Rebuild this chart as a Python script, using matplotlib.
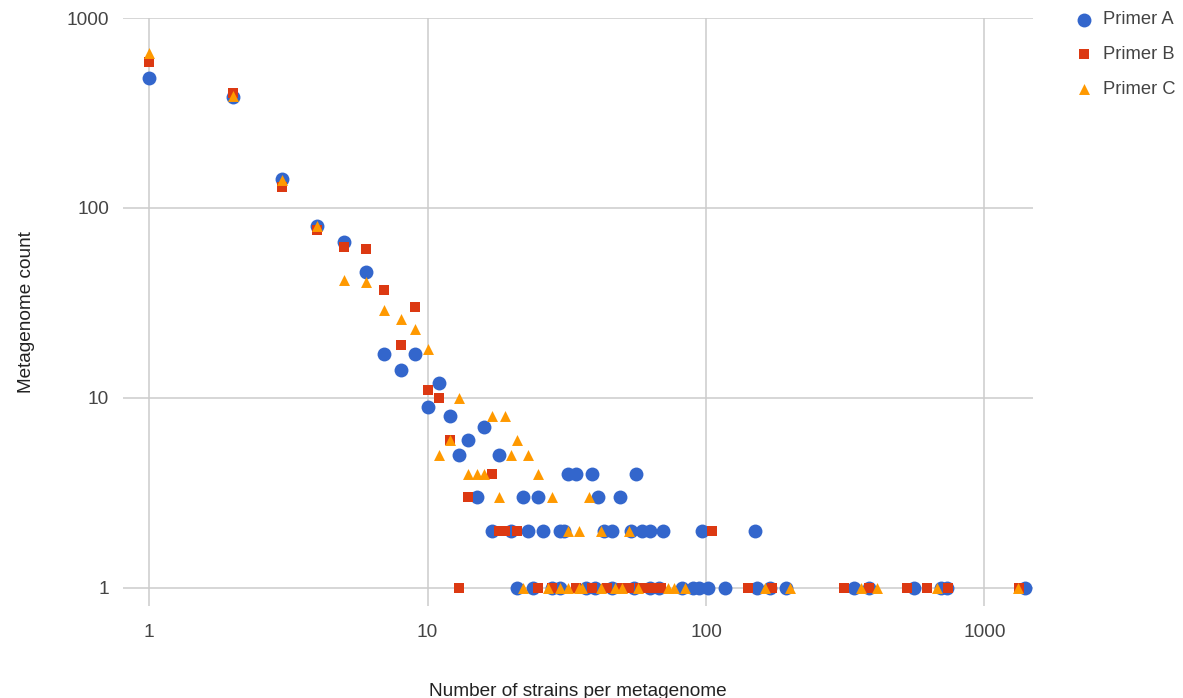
import matplotlib
matplotlib.use("Agg")
import matplotlib.pyplot as plt
from matplotlib.ticker import FixedLocator, NullLocator, FixedFormatter

plt.rcParams['font.family'] = ['Liberation Sans', 'DejaVu Sans']

# ---- data ----
a_x = [1, 2, 3, 4, 5, 6, 7, 8, 9, 10, 11, 12, 13, 14, 15, 16, 18,
       22, 25, 32, 34, 39, 41, 49, 56,
       17, 20, 23, 26, 30, 31, 43, 46, 54, 59, 63, 70, 97, 150,
       21, 24, 28, 30, 37, 40, 46, 55, 63, 68, 82, 90, 94, 102, 117, 153, 170, 194, 340, 385, 560, 696, 735, 1398]
a_y = [485, 385, 142, 80, 66, 46, 17, 14, 17, 9, 12, 8, 5, 6, 3, 7, 5,
       3, 3, 4, 4, 4, 3, 3, 4,
       2, 2, 2, 2, 2, 2, 2, 2, 2, 2, 2, 2, 2, 2,
       1, 1, 1, 1, 1, 1, 1, 1, 1, 1, 1, 1, 1, 1, 1, 1, 1, 1, 1, 1, 1, 1, 1, 1]

b_x = [1, 2, 3, 4, 5, 6, 7, 8, 9, 10, 11, 12, 14, 17,
       18, 19, 21, 105,
       13, 25, 28, 34, 39, 44, 50, 53, 58, 62, 66, 69, 142, 172, 314, 385, 526, 620, 741, 1330]
b_y = [590, 405, 129, 77, 62, 61, 37, 19, 30, 11, 10, 6, 3, 4,
       2, 2, 2, 2,
       1, 1, 1, 1, 1, 1, 1, 1, 1, 1, 1, 1, 1, 1, 1, 1, 1, 1, 1, 1]

c_x = [1, 2, 3, 4, 5, 6, 7, 8, 9, 10, 11, 12, 13, 14, 15, 16, 17, 18, 19, 20, 21, 23, 25, 28, 38,
       32, 35, 42, 53,
       22, 27, 30, 32, 35, 36, 42, 47, 50, 57, 73, 77, 84, 163, 201, 360, 412, 677, 1322]
c_y = [655, 390, 140, 80, 42, 41, 29, 26, 23, 18, 5, 6, 10, 4, 4, 4, 8, 3, 8, 5, 6, 5, 4, 3, 3,
       2, 2, 2, 2,
       1, 1, 1, 1, 1, 1, 1, 1, 1, 1, 1, 1, 1, 1, 1, 1, 1, 1, 1]

series_names = ["Primer A", "Primer B", "Primer C"]
x_ticks = [1, 10, 100, 1000]
y_ticks = [1, 10, 100, 1000]

# ---- figure ----
W, H = 1183, 698
fig = plt.figure(figsize=(W / 100, H / 100), dpi=100)
ax = fig.add_axes([123 / W, 1 - 606 / H, 910 / W, 588 / H])

ax.scatter(a_x, a_y, s=100, marker='o', color='#3366CC', linewidths=0, label=series_names[0], zorder=3)
ax.scatter(b_x, b_y, s=50, marker='s', color='#DC3912', linewidths=0, label=series_names[1], zorder=4)
ax.scatter(c_x, c_y, s=62, marker='^', color='#FF9900', linewidths=0, label=series_names[2], zorder=5)

ax.set_xscale('log')
ax.set_yscale('log')
ax.set_xlim(0.806, 1494)
ax.set_ylim(0.804, 1000)

ax.xaxis.set_major_locator(FixedLocator(x_ticks))
ax.xaxis.set_major_formatter(FixedFormatter([str(t) for t in x_ticks]))
ax.xaxis.set_minor_locator(NullLocator())
ax.yaxis.set_major_locator(FixedLocator(y_ticks))
ax.yaxis.set_major_formatter(FixedFormatter([str(t) for t in y_ticks]))
ax.yaxis.set_minor_locator(NullLocator())

ax.grid(True, color='#CCCCCC', linewidth=1.1, zorder=0)
ax.set_axisbelow(True)
for s in ax.spines.values():
    s.set_visible(False)
ax.tick_params(axis='both', length=0, labelsize=13.7, colors='#444444')
ax.tick_params(axis='x', pad=13)
ax.tick_params(axis='y', pad=10)

ax.set_xlabel("Number of strains per metagenome", fontsize=13.7, color='#222222', labelpad=30)
ax.set_ylabel("Metagenome count", fontsize=13.7, color='#222222')
ax.yaxis.set_label_coords(-88 / 910, 0.5)

leg = fig.legend(loc='upper left', bbox_to_anchor=(1058 / W, 1 - 4 / H), frameon=False,
                 fontsize=13.2, handletextpad=0.05, labelspacing=0.98, borderaxespad=0,
                 markerscale=1.0)
for t in leg.get_texts():
    t.set_color('#444444')

fig.savefig("out.png", dpi=100)
